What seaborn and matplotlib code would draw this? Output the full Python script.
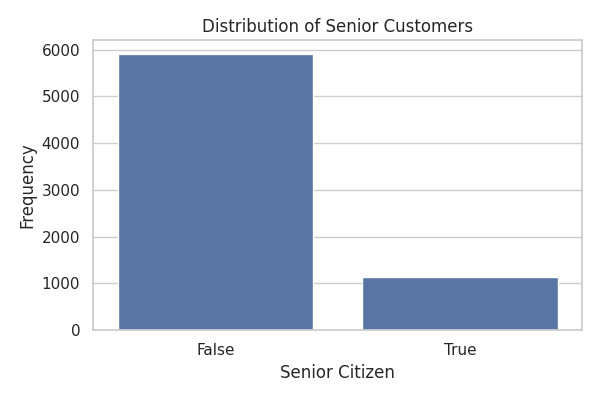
import matplotlib
matplotlib.use("Agg")
import matplotlib.pyplot as plt
import seaborn as sns
import pandas as pd

categories = ["False", "True"]
counts = [5901, 1142]

sns.set_theme(style="whitegrid")

df = pd.DataFrame({"Senior Citizen": categories, "Frequency": counts})

fig, ax = plt.subplots(figsize=(6, 4), dpi=100)
sns.barplot(data=df, x="Senior Citizen", y="Frequency", color="#4c72b0", ax=ax)
ax.set_title("Distribution of Senior Customers")
ax.set_xlabel("Senior Citizen")
ax.set_ylabel("Frequency")
plt.tight_layout()
plt.savefig("out.png")
